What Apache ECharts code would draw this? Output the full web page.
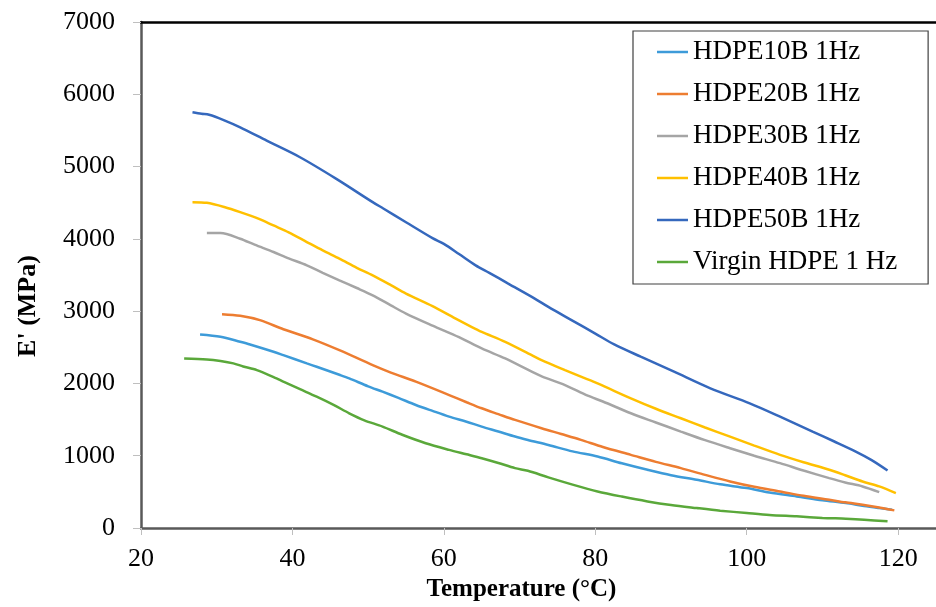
<!DOCTYPE html>
<html>
<head>
<meta charset="utf-8">
<script src="https://cdn.jsdelivr.net/npm/echarts@6/dist/echarts.min.js"></script>
<style>html,body{margin:0;padding:0;background:#fff}#chart{width:936px;height:607px}</style>
</head>
<body>
<div id="chart"></div>
<script>
const seriesNames = ['HDPE10B 1Hz','HDPE20B 1Hz','HDPE30B 1Hz','HDPE40B 1Hz','HDPE50B 1Hz','Virgin HDPE 1 Hz'];
const xTicks = [20, 40, 60, 80, 100, 120];
const yTicks = [0, 1000, 2000, 3000, 4000, 5000, 6000, 7000];

const t10B = [27.8,30.5,33.1,34.4,37.5,38.8,41.9,43.2,46.2,47.5,50,51.9,54,56.3,58.5,60.7,63,65,67.2,69.4,71.1,73.8,77,80.3,83.5,86.9,90,93.4,96.5,100,103,106.6,110,113.1,115.5,117.5,119.2];
const e10B = [2677,2645,2576,2539,2438,2391,2277,2231,2120,2070,1960,1886,1800,1702,1620,1541,1470,1403,1335,1265,1218,1149,1060,989,895,805,730,667,605,552,490,437,385,345,305,276,253];

const t20B = [30.7,33.1,35.7,38.8,42.7,46.2,50.6,53,56.3,60.7,63,65,67.2,69.4,72.9,75.5,78.1,81,84.7,88,91.3,94.5,97.8,101,104.4,107.5,110.9,113,115.3,117.5,119.5];
const e20B = [2957,2935,2875,2750,2610,2460,2253,2150,2024,1839,1740,1656,1575,1495,1380,1300,1219,1120,1012,915,828,735,644,570,506,445,391,355,322,285,244];

const t30B = [28.7,30.5,33.1,35,37.5,39.5,41.9,44,46.2,48.5,50.6,53,55,58.5,62,65,68.1,71.6,73,76,79,81,84.7,88,91.3,94.5,97.8,101,104.4,107.5,110.9,113,115.3,117.5];
const e30B = [4080,4080,4002,3920,3818,3730,3634,3530,3426,3320,3219,3080,2967,2800,2640,2484,2346,2162,2095,1977,1830,1750,1587,1460,1334,1215,1104,1000,897,795,690,630,575,497];

const t40B = [26.8,28.7,31,33.1,35.5,37.5,39.5,41.9,44,46.2,48.5,50.6,53,55,58.5,61.5,63.7,65,68.1,71.6,72.9,76,78.1,80.3,84.7,88,91.3,94.5,97.8,101,104.4,107.5,110.9,113,115.3,117.5,119.7];
const e40B = [4508,4498,4440,4370,4280,4185,4090,3956,3840,3726,3600,3495,3360,3243,3070,2900,2780,2714,2576,2392,2323,2184,2093,2000,1794,1650,1518,1390,1265,1140,1012,910,805,730,644,575,483];

const t50B = [26.8,28,29,31,33.1,36.6,41,45.8,50.6,52,55,58.5,60,62,64.2,66,68.5,72,73.8,76.8,80,82.5,86,90.4,95.2,100.4,104.4,108.7,111.5,114.4,116.5,118.6];
const e50B = [5750,5730,5717,5640,5543,5358,5129,4830,4508,4420,4230,4010,3930,3790,3633,3530,3381,3174,3059,2880,2690,2540,2370,2162,1932,1725,1541,1334,1200,1058,940,796];

const tVirgin = [25.7,28.7,30.5,32.2,33.5,35.3,37.9,38.8,41,43.2,45.5,47.5,49.5,51.9,54.5,57.6,60.7,63,65,67.2,69.4,71.1,73.8,77,80.3,83.5,86.9,90,93.4,96.5,100,103,106.6,110,113.1,115.5,118.6];
const eVirgin = [2346,2332,2310,2277,2235,2185,2070,2024,1920,1817,1700,1587,1490,1403,1290,1173,1081,1020,966,900,828,791,700,600,506,435,368,318,276,240,207,180,161,140,128,115,92];

const colors = ['#3D9BD9','#ED7D31','#A5A5A5','#FFC000','#3568BD','#5AA83A'];
const tempArrays = [t10B,t20B,t30B,t40B,t50B,tVirgin];
const modArrays = [e10B,e20B,e30B,e40B,e50B,eVirgin];

const FONT = '"Liberation Serif","Times New Roman",serif';
const chart = echarts.init(document.getElementById('chart'), null, {renderer:'canvas'});

const series = seriesNames.map((name, i) => ({
  name: name,
  type: 'line',
  xAxisIndex: 0,
  showSymbol: false,
  smooth: 0.3,
  lineStyle: {width: 2.5, color: colors[i]},
  itemStyle: {color: colors[i]},
  data: tempArrays[i].map((t, j) => [t, modArrays[i][j]])
}));

chart.setOption({
  animation: false,
  backgroundColor: '#fff',
  grid: {left: 141, right: -4, top: 22, bottom: 77, containLabel: false},
  legend: {
    orient: 'vertical',
    left: 633, top: 31,
    padding: [6, 31, 7, 24],
    itemGap: 12,
    itemWidth: 31, itemHeight: 2.5,
    icon: 'rect',
    borderColor: '#404040', borderWidth: 1.2,
    backgroundColor: '#fff',
    selectedMode: false,
    textStyle: {fontFamily: FONT, fontSize: 27, color: '#000', lineHeight: 30},
    data: seriesNames
  },
  xAxis: [{
    type: 'value', min: xTicks[0], max: 125, interval: 20,
    name: 'Temperature (°C)', nameLocation: 'middle', nameGap: 49,
    nameTextStyle: {fontFamily: FONT, fontSize: 25, fontWeight: 'bold', color: '#000', padding: [0, 34, 0, 0]},
    axisLine: {show: true, lineStyle: {color: '#595959', width: 2.5}},
    axisTick: {show: true, length: 7, lineStyle: {color: '#bfbfbf', width: 1}},
    axisLabel: {fontFamily: FONT, fontSize: 26, color: '#000', margin: 18, showMaxLabel: false,
      formatter: v => xTicks.includes(v) ? String(v) : ''},
    splitLine: {show: false}
  }, {
    type: 'value', position: 'top', min: xTicks[0], max: 125,
    axisLine: {show: true, onZero: false, lineStyle: {color: '#000', width: 2.5}},
    axisTick: {show: false}, axisLabel: {show: false}, splitLine: {show: false}
  }],
  yAxis: {
    type: 'value', min: yTicks[0], max: yTicks[yTicks.length-1], interval: 1000,
    name: "E' (MPa)", nameLocation: 'middle', nameGap: 100, nameRotate: 90,
    nameTextStyle: {fontFamily: FONT, fontSize: 26, fontWeight: 'bold', color: '#000', padding: [0, 62, 0, 0]},
    axisLine: {show: true, lineStyle: {color: '#595959', width: 2.5}},
    axisTick: {show: true, length: 8, lineStyle: {color: '#bfbfbf', width: 1}},
    axisLabel: {fontFamily: FONT, fontSize: 26, color: '#000', margin: 26, formatter: v => String(v)},
    splitLine: {show: false}
  },
  series: series
});
</script>
</body>
</html>
